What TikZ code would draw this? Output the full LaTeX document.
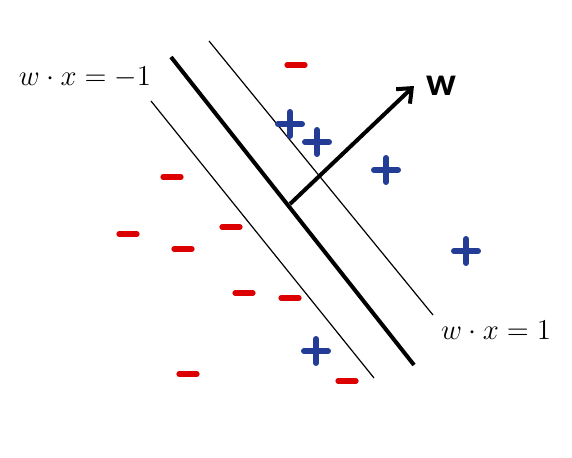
\documentclass[tikz,border=0pt]{standalone}
\usepackage{fontspec}
\usetikzlibrary{arrows.meta}
\newfontfamily\wfont{Carlito}
\definecolor{posblue}{RGB}{35,60,150}
\definecolor{negred}{RGB}{220,0,0}

\tikzset{
    plus/.pic={\draw[posblue, line width=3pt, line cap=round] (-12,0) -- (12,0) (0,-12) -- (0,12);},
    minus/.pic={\draw[negred, line width=2.6pt, line cap=round] (-9,0) -- (9,0);},
    eqlabel/.style={font=\fontsize{14.6}{17}\selectfont},
}

\begin{document}
\begin{tikzpicture}[x=0.5pt, y=-0.5pt]
    \useasboundingbox (0,0) rectangle (572,458);

    % margin lines and separating line
    \coordinate (sepA) at (171,57);
    \coordinate (sepB) at (414,365);
    \coordinate (upA) at (209,41);
    \coordinate (upB) at (433,315);
    \coordinate (loA) at (151,101);
    \coordinate (loB) at (374,378);
    \draw[line width=2pt] (sepA) -- (sepB);
    \draw[line width=0.6pt] (upA) -- (upB);
    \draw[line width=0.6pt] (loA) -- (loB);

    % normal vector
    \coordinate (base) at (290,204);
    \coordinate (tip) at (414,86);
    \draw[line width=2pt, -{Straight Barb[length=6pt, width=10pt]}] (base) -- (tip);
    \node (wlabel) [font=\wfont\bfseries\fontsize{20}{24}\selectfont] at (441,86) {w};

    \node (neglabel) [eqlabel] at (85,77) {$w\cdot x=-1$};
    \node (poslabel) [eqlabel] at (496,330) {$w\cdot x=1$};

    % positive samples
    \foreach \x/\y in {290/124, 317/142, 386/170, 466/251, 316/351}
        \pic at (\x,\y) {plus};

    % negative samples
    \foreach \x/\y in {296/65, 172/177, 128/234, 183/249, 231/227, 244/293, 290/298, 188/374, 347/381}
        \pic at (\x,\y) {minus};
\end{tikzpicture}
\end{document}
